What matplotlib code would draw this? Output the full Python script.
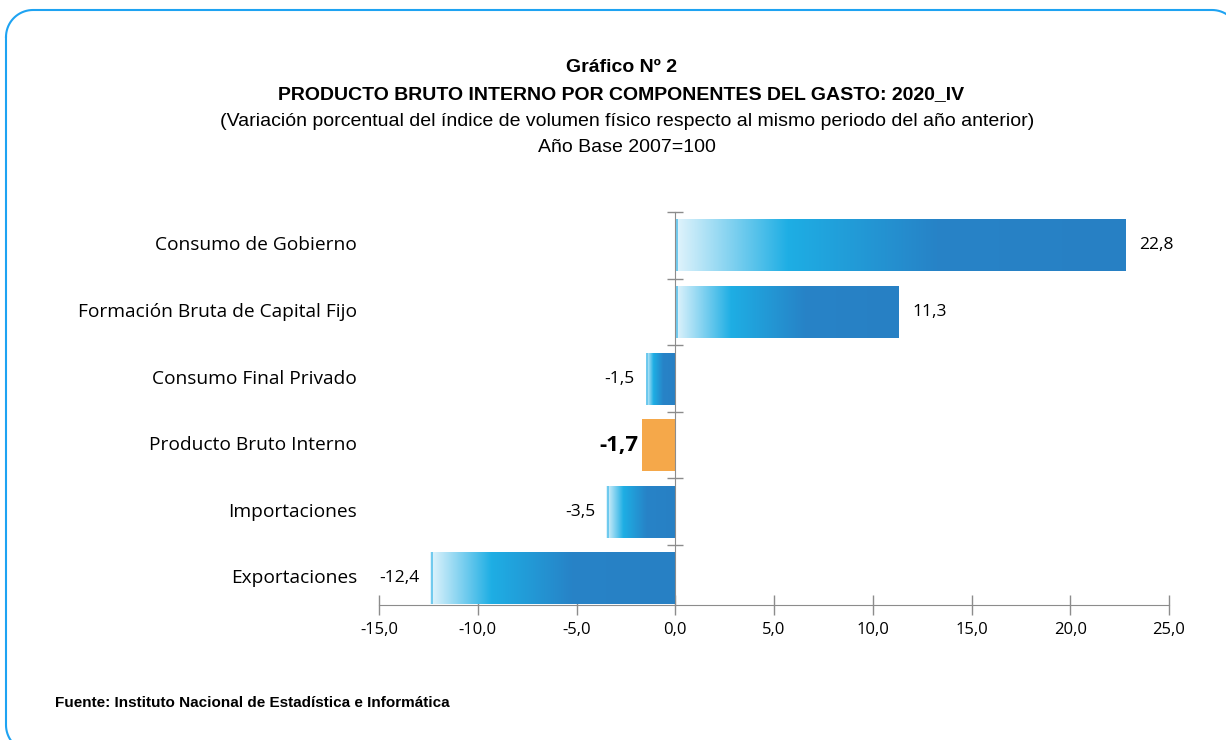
import numpy as np
import matplotlib
matplotlib.use("Agg")
from matplotlib import pyplot as plt
from matplotlib.colors import LinearSegmentedColormap
import matplotlib.transforms as mtransforms

categorias = ['Consumo de Gobierno', 'Formación Bruta de Capital Fijo',
              'Consumo Final Privado', 'Producto Bruto Interno',
              'Importaciones', 'Exportaciones']
valores = [22.8, 11.3, -1.5, -1.7, -3.5, -12.4]
etiquetas = ['22,8', '11,3', '-1,5', '-1,7', '-3,5', '-12,4']
xticks = [-15, -10, -5, 0, 5, 10, 15, 20, 25]
xtick_labels = ['-15,0', '-10,0', '-5,0', '0,0', '5,0', '10,0', '15,0', '20,0', '25,0']

titulo1 = 'Gráfico Nº 2'
titulo2 = 'PRODUCTO BRUTO INTERNO POR COMPONENTES DEL GASTO: 2020_IV'
titulo3 = '(Variación porcentual del índice de volumen físico respecto al mismo periodo del año anterior)'
titulo4 = 'Año Base 2007=100'
fuente = 'Fuente: Instituto Nacional de Estadística e Informática'

narrow = ['Liberation Sans Narrow', 'Liberation Sans', 'DejaVu Sans']
label_font = ['Open Sans', 'DejaVu Sans']

grad = LinearSegmentedColormap.from_list(
    'azul', [(0.0, '#e2f4fc'), (0.25, '#1eaee4'), (0.58, '#2783c7'), (1.0, '#2880c4')])

fig = plt.figure(figsize=(12.26, 7.4), dpi=100)

# marco redondeado en pixeles (se sale por la derecha y por abajo)
fondo = fig.add_axes([0, 0, 1, 1], zorder=0)
fondo.set_xlim(0, 1226)
fondo.set_ylim(740, 0)
fondo.axis('off')

def rect_redondeado(x0, y0, x1, y1, r):
    t = np.linspace(0, np.pi / 2, 20)
    xs, ys = [], []
    # esquinas: sup-izq, sup-der, inf-der, inf-izq
    for cx, cy, a0 in [(x0 + r, y0 + r, np.pi), (x1 - r, y0 + r, 1.5 * np.pi),
                       (x1 - r, y1 - r, 0), (x0 + r, y1 - r, 0.5 * np.pi)]:
        xs.extend(cx + r * np.cos(a0 + t))
        ys.extend(cy + r * np.sin(a0 + t))
    xs.append(xs[0])
    ys.append(ys[0])
    return xs, ys

bx, by = rect_redondeado(6, 10, 1239, 752, 27)
fondo.plot(bx, by, color='#1ea3f2', lw=1.5, clip_on=False)

ax = fig.add_axes([379/1226, 1 - 605/740, 790/1226, 393/740], zorder=1)
ax.patch.set_alpha(0)
y = np.arange(len(categorias))
bars = ax.barh(y, valores, height=0.78, color='none', edgecolor='none', zorder=2)

for i, (b, v) in enumerate(zip(bars, valores)):
    if categorias[i] == 'Producto Bruto Interno':
        b.set_facecolor('#f5a84a')
        continue
    x0, x1 = min(0, v), max(0, v)
    y0, y1 = b.get_y(), b.get_y() + b.get_height()
    g = np.linspace(0, 1, 256).reshape(1, -1)
    im = ax.imshow(g, cmap=grad, aspect='auto', extent=(x0, x1, y1, y0),
                   zorder=2, interpolation='bilinear')
    im.set_clip_path(b)
    # filete azul en el borde izquierdo
    ax.plot([x0 + 0.08, x0 + 0.08], [y0, y1], color='#5cc3ec', lw=1.2, zorder=2.5,
            solid_capstyle='butt')

for i, v in enumerate(valores):
    bold = categorias[i] == 'Producto Bruto Interno'
    if v >= 0:
        ax.annotate(etiquetas[i], (v, i), xytext=(10, 0), textcoords='offset points',
                    ha='left', va='center', fontsize=12.5, family=label_font)
    else:
        ax.annotate(etiquetas[i], (v, i), xytext=(-2 if bold else -8, 0),
                    textcoords='offset points', ha='right', va='center',
                    fontsize=16 if bold else 12.5,
                    fontweight='bold' if bold else 'normal', family=label_font)

trans = mtransforms.blended_transform_factory(ax.transAxes, ax.transData)
for i, c in enumerate(categorias):
    ax.text(-22/790, i, c, transform=trans, ha='right', va='center',
            fontsize=13.8, family=label_font)

ax.set_xlim(-15, 25)
ax.set_ylim(5.4, -0.5)
ax.set_xticks(xticks)
ax.set_xticklabels(xtick_labels, family=label_font, fontsize=12)
ax.set_yticks(np.arange(-0.5, 5.5, 1.0))
ax.set_yticklabels([])
ax.tick_params(axis='x', direction='inout', length=14, color='#8c8c8c', width=1, pad=5)
ax.tick_params(axis='y', direction='inout', length=12, color='#8c8c8c', width=1)
for s in ['top', 'right']:
    ax.spines[s].set_visible(False)
ax.spines['left'].set_position(('data', 0))
ax.spines['left'].set_color('#8c8c8c')
ax.spines['bottom'].set_color('#8c8c8c')
ax.spines['left'].set_zorder(3)

fig.text(621/1226, 1 - 68/740, titulo1, ha='center', va='center', fontsize=14,
         fontweight='bold', family=narrow)
fig.text(621/1226, 1 - 95/740, titulo2, ha='center', va='center', fontsize=14,
         fontweight='bold', family=narrow)
fig.text(627/1226, 1 - 122/740, titulo3, ha='center', va='center', fontsize=14,
         family=narrow)
fig.text(627/1226, 1 - 148/740, titulo4, ha='center', va='center', fontsize=14,
         family=narrow)
fig.text(55/1226, 1 - 703/740, fuente, ha='left', va='center', fontsize=11,
         fontweight='bold', family=narrow)

fig.savefig('out.png', dpi=100)
